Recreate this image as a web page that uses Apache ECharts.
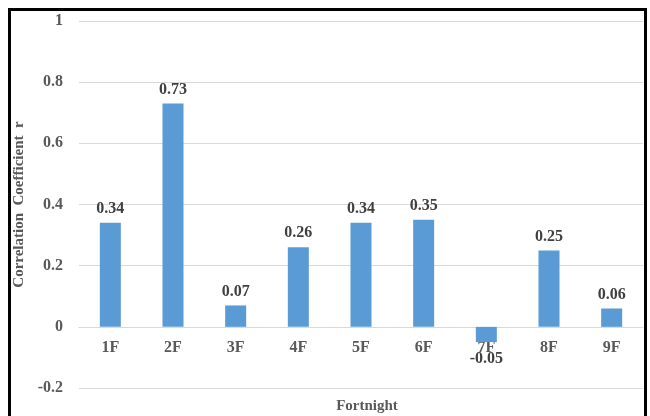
<!DOCTYPE html>
<html>
<head>
<meta charset="utf-8">
<script src="https://cdn.jsdelivr.net/npm/echarts@6/dist/echarts.min.js"></script>
<style>html,body{margin:0;padding:0;background:#fff}#c{width:650px;height:416px}</style>
</head>
<body>
<div id="c"></div>
<script>
const categories = ['1F','2F','3F','4F','5F','6F','7F','8F','9F'];
const values = [0.34, 0.73, 0.07, 0.26, 0.34, 0.35, -0.05, 0.25, 0.06];
const yTicks = [-0.2, 0, 0.2, 0.4, 0.6, 0.8, 1];
const yTitle = 'Correlation  Coefficient  r';
const xTitle = 'Fortnight';

const FONT = '"Liberation Serif", "Times New Roman", serif';
const H = 416, TOP = 21, BOTTOM = 28;
const yMin = yTicks[0], yMax = yTicks[yTicks.length-1];
const plotH = H - TOP - BOTTOM;
const zeroOffset = -plotH * (0 - yMin) / (yMax - yMin);

const chart = echarts.init(document.getElementById('c'));
chart.setOption({
  animation: false,
  backgroundColor: '#fff',
  title: {
    text: xTitle, left: 362, top: 394, textAlign: 'center',
    textStyle: {fontFamily: FONT, fontWeight: 'bold', fontSize: 15, color: '#595959'}
  },
  graphic: [{
    type: 'rect', shape: {x: 9.5, y: 9.5, width: 636, height: 420},
    style: {fill: 'none', stroke: '#000', lineWidth: 3}, silent: true
  }],
  grid: {left: 79, right: 7, top: TOP, bottom: BOTTOM},
  xAxis: {
    type: 'category', data: categories, offset: zeroOffset,
    axisLine: {show: true, onZero: false, lineStyle: {color: '#d9d9d9', width: 1}},
    axisTick: {show: false},
    axisLabel: {fontFamily: FONT, fontWeight: 'bold', fontSize: 16, color: '#595959', margin: 13}
  },
  yAxis: {
    type: 'value', min: yMin, max: yMax, interval: 0.2,
    name: yTitle, nameLocation: 'middle', nameGap: 45,
    nameTextStyle: {fontFamily: FONT, fontWeight: 'bold', fontSize: 15, color: '#595959'},
    axisLine: {show: false}, axisTick: {show: false},
    splitLine: {lineStyle: {color: '#d9d9d9', width: 1}},
    axisLabel: {fontFamily: FONT, fontWeight: 'bold', fontSize: 16, color: '#595959', margin: 16,
      formatter: v => String(Math.round(v*10)/10)}
  },
  series: [{
    type: 'bar', barWidth: 21,
    data: values.map(v => v < 0 ? {value: v, label: {position: 'bottom', distance: 9}} : v),
    itemStyle: {color: '#5b9bd5'},
    label: {show: true, fontFamily: FONT, fontWeight: 'bold', fontSize: 16, color: '#404040',
      position: 'top', distance: 6,
      formatter: p => p.value.toFixed(2)}
  }]
});
</script>
</body>
</html>
